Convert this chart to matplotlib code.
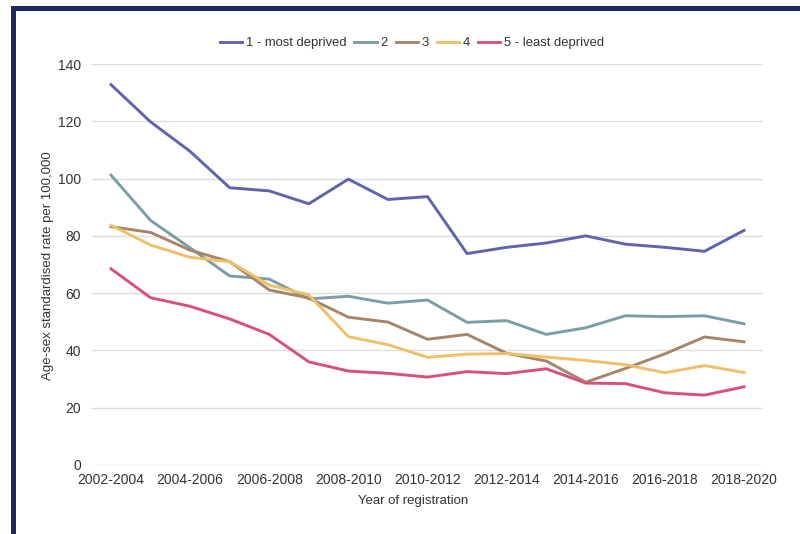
import matplotlib.pyplot as plt
from matplotlib.patches import Rectangle

plt.rcParams['font.family'] = ['Liberation Sans', 'DejaVu Sans']

periods = ['2002-2004', '2003-2005', '2004-2006', '2005-2007', '2006-2008', '2007-2009',
           '2008-2010', '2009-2011', '2010-2012', '2011-2013', '2012-2014', '2013-2015',
           '2014-2016', '2015-2017', '2016-2018', '2017-2019', '2018-2020']

q1 = [132.8, 119.8, 109.5, 96.8, 95.7, 91.2, 99.8, 92.7, 93.7, 73.8, 76.0, 77.5, 80.0, 77.1, 76.0, 74.6, 81.9]
q2 = [101.2, 85.4, 75.8, 66.0, 64.9, 58.0, 58.9, 56.5, 57.6, 49.8, 50.4, 45.6, 47.9, 52.1, 51.8, 52.1, 49.3]
q3 = [83.2, 81.2, 75.0, 71.0, 61.1, 58.3, 51.6, 49.9, 43.9, 45.6, 39.0, 36.3, 28.9, 33.7, 38.8, 44.7, 43.0]
q4 = [83.7, 76.8, 72.5, 71.0, 62.8, 59.4, 44.8, 42.0, 37.6, 38.7, 38.9, 37.7, 36.5, 35.0, 32.2, 34.7, 32.3]
q5 = [68.5, 58.4, 55.4, 51.0, 45.6, 36.0, 32.8, 32.0, 30.7, 32.6, 31.9, 33.6, 28.6, 28.4, 25.2, 24.4, 27.3]

series = [('1 - most deprived', q1, '#6064ae'),
          ('2', q2, '#7b9ea6'),
          ('3', q3, '#a6866b'),
          ('4', q4, '#efbf6a'),
          ('5 - least deprived', q5, '#d9507c')]

fig = plt.figure(figsize=(8, 5.34), dpi=100)

# navy frame on the top and left edges
fig.patches.append(Rectangle((11 / 800, 0), 5 / 800, 1 - 6 / 534, transform=fig.transFigure,
                             facecolor='#1e2a66', edgecolor='none'))
fig.patches.append(Rectangle((11 / 800, 1 - 11 / 534), 1, 5 / 534, transform=fig.transFigure,
                             facecolor='#1e2a66', edgecolor='none'))

ax = fig.add_axes([92 / 800, 1 - 465 / 534, (763 - 92) / 800, (465 - 64) / 534])
x = list(range(len(periods)))
for name, vals, col in series:
    ax.plot(x, vals, color=col, lw=2.1, label=name, solid_joinstyle='round')

ax.set_ylim(0, 140)
ax.set_xlim(-0.48, 16.48)
ax.set_yticks(range(0, 141, 20))
ax.set_xticks(x[::2])
ax.set_xticklabels(periods[::2])
ax.tick_params(length=0, labelsize=10, labelcolor='#333333')
ax.tick_params(axis='y', pad=8)
ax.tick_params(axis='x', pad=6)
ax.grid(axis='y', color='#dddddd', lw=1)
ax.set_axisbelow(True)
for s in ax.spines.values():
    s.set_visible(False)

fig.text(413 / 800, 1 - 501 / 534, 'Year of registration', ha='center', va='center',
         fontsize=9.5, color='#333333')
fig.text(48 / 800, 1 - 266 / 534, 'Age-sex standardised rate per 100,000', ha='center',
         va='center', rotation=90, fontsize=9.5, color='#333333')

fig.legend(loc='center', bbox_to_anchor=(412 / 800, 1 - 43 / 534), ncol=5, frameon=False,
           fontsize=9.4, handlelength=1.7, handletextpad=0.3, columnspacing=0.6,
           labelcolor='#333333')

fig.savefig('out.png', dpi=100)
